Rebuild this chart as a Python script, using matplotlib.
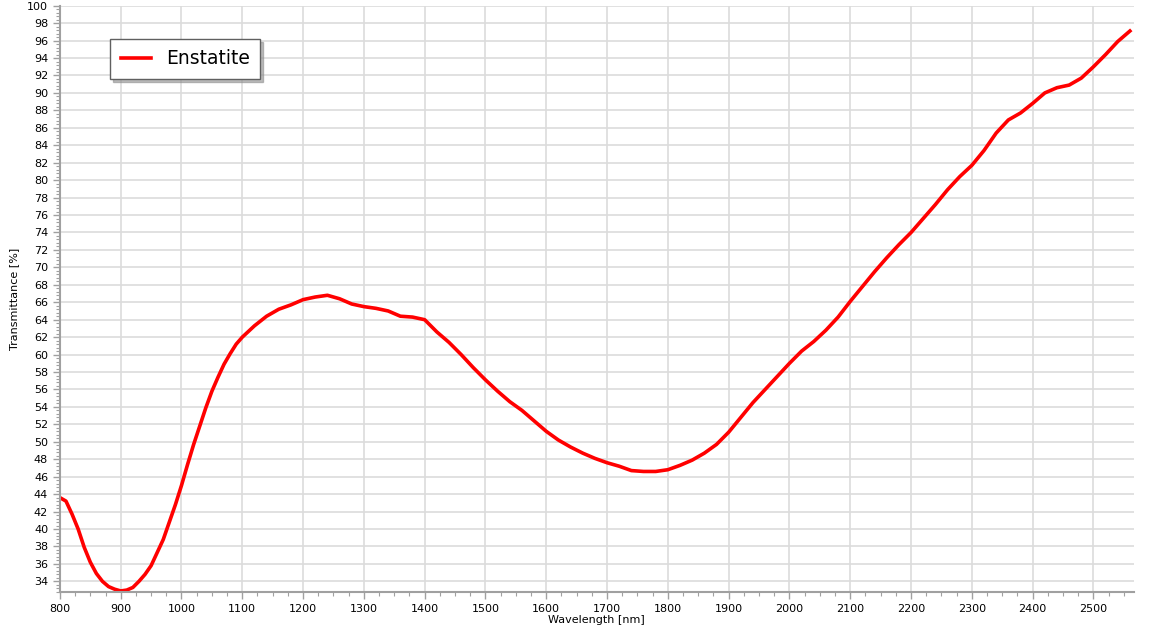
import matplotlib.pyplot as plt
from matplotlib.ticker import MultipleLocator

# wavelength [nm] and transmittance [%]
wavelength = [800, 810, 820, 830, 840, 850, 860, 870, 880, 890, 900, 910, 920, 930, 940,
              950, 960, 970, 980, 990, 1000, 1010, 1020, 1030, 1040, 1050, 1060, 1070,
              1080, 1090, 1100, 1120, 1140, 1160, 1180, 1200, 1220, 1240, 1260, 1280,
              1300, 1320, 1340, 1360, 1380, 1400, 1420, 1440, 1460, 1480, 1500, 1520,
              1540, 1560, 1580, 1600, 1620, 1640, 1660, 1680, 1700, 1720, 1740, 1760,
              1780, 1800, 1820, 1840, 1860, 1880, 1900, 1920, 1940, 1960, 1980, 2000,
              2020, 2040, 2060, 2080, 2100, 2120, 2140, 2160, 2180, 2200, 2220, 2240,
              2260, 2280, 2300, 2320, 2340, 2360, 2380, 2400, 2420, 2440, 2460, 2480,
              2500, 2520, 2540, 2560]
transmittance = [43.6, 43.2, 41.7, 40.0, 37.9, 36.2, 34.9, 34.0, 33.4, 33.1, 32.9, 33.0,
                 33.3, 34.0, 34.8, 35.8, 37.3, 38.8, 40.8, 42.8, 45.0, 47.4, 49.7, 51.8,
                 53.9, 55.8, 57.4, 58.9, 60.1, 61.2, 62.0, 63.3, 64.4, 65.2, 65.7, 66.3,
                 66.6, 66.8, 66.4, 65.8, 65.5, 65.3, 65.0, 64.4, 64.3, 64.0, 62.6, 61.4,
                 60.0, 58.5, 57.1, 55.8, 54.6, 53.6, 52.4, 51.2, 50.2, 49.4, 48.7, 48.1,
                 47.6, 47.2, 46.7, 46.6, 46.6, 46.8, 47.3, 47.9, 48.7, 49.7, 51.1, 52.8,
                 54.5, 56.0, 57.5, 59.0, 60.4, 61.5, 62.8, 64.3, 66.1, 67.8, 69.5, 71.1,
                 72.6, 74.0, 75.6, 77.2, 78.9, 80.4, 81.7, 83.4, 85.4, 86.9, 87.7, 88.8,
                 90.0, 90.6, 90.9, 91.7, 93.0, 94.4, 95.9, 97.1]

plt.rcParams['font.family'] = ['Verdana', 'DejaVu Sans']

fig = plt.figure(figsize=(11.52, 6.35), dpi=100)
ax = fig.add_axes([0.052, 0.068, 0.932, 0.923])

ax.plot(wavelength, transmittance, color='#ff0000', lw=2.6, label='Enstatite',
        solid_joinstyle='round')

ax.set_xlim(800, 2566)
ax.set_ylim(32.8, 100)
ax.xaxis.set_major_locator(MultipleLocator(100))
ax.xaxis.set_minor_locator(MultipleLocator(25))
ax.yaxis.set_major_locator(MultipleLocator(2))
ax.yaxis.set_minor_locator(MultipleLocator(0.4))

ax.grid(True, which='major', color='#dcdcdc', lw=1.2)
ax.set_axisbelow(True)
for side in ['top', 'right']:
    ax.spines[side].set_visible(False)
for side in ['left', 'bottom']:
    ax.spines[side].set_color('#a0a0a0')
    ax.spines[side].set_linewidth(1.5)
ax.tick_params(which='both', colors='#a0a0a0', labelcolor='black', labelsize=8)
ax.tick_params(which='major', length=5, width=1)
ax.tick_params(which='minor', length=3, width=0.8)

ax.set_xlabel('Wavelength [nm]', fontsize=8, labelpad=1)
ax.set_ylabel('Transmittance [%]', fontsize=8, labelpad=6)

leg = ax.legend(loc='upper left', bbox_to_anchor=(0.047, 0.943), borderaxespad=0,
                fontsize=13.5, fancybox=False, shadow={'color': '#909090', 'alpha': 0.6},
                edgecolor='#606060', handlelength=1.6, borderpad=0.55, framealpha=1)
leg.get_frame().set_linewidth(1)

fig.savefig('out.png', dpi=100)
